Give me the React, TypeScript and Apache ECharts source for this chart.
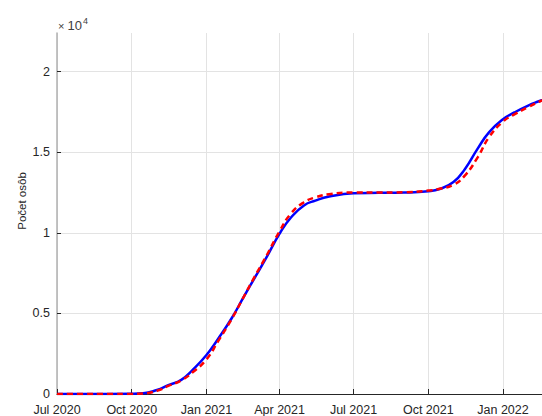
import React, { useEffect, useRef } from "react";
import * as echarts from "echarts";

const dates = [
  "2020-07-01", "2020-08-01", "2020-09-01", "2020-10-01", "2020-10-15",
  "2020-11-01", "2020-11-15", "2020-12-01", "2020-12-15", "2021-01-01",
  "2021-01-15", "2021-02-01", "2021-02-15", "2021-03-01", "2021-03-15",
  "2021-04-01", "2021-04-15", "2021-05-01", "2021-05-15", "2021-06-01",
  "2021-07-01", "2021-08-01", "2021-09-01", "2021-10-01", "2021-10-15",
  "2021-11-01", "2021-11-15", "2021-12-01", "2021-12-15", "2022-01-01",
  "2022-01-15", "2022-02-01", "2022-02-15", "2022-03-01",
];

const blueValues = [
  0, 0, 0, 10, 40,
  250, 550, 880, 1500, 2420,
  3400, 4700, 5950, 7180, 8400,
  9950, 10950, 11700, 12000, 12250,
  12450, 12480, 12500, 12580, 12720,
  13150, 13950, 15240, 16250, 17050,
  17470, 17900, 18180, 18450,
];

const redValues = [
  0, 0, 0, 5, 30,
  200, 500, 850, 1350, 2150,
  3250, 4650, 5950, 7250, 8500,
  10100, 11200, 11900, 12200, 12400,
  12500, 12500, 12520, 12620, 12730,
  12980, 13550, 14700, 15950, 16900,
  17350, 17800, 18150, 18450,
];

const xTickDates = [
  "2020-07-01", "2020-10-01", "2021-01-01", "2021-04-01",
  "2021-07-01", "2021-10-01", "2022-01-01",
];
const monthNames = ["Jan", "Feb", "Mar", "Apr", "May", "Jun", "Jul", "Aug", "Sep", "Oct", "Nov", "Dec"];

const yTicks = [0, 5000, 10000, 15000, 20000];
const yLabels = ["0", "0.5", "1", "1.5", "2"];

const xMin = "2020-07-01";
const xMax = "2022-02-18";
const yMax = 22400;

const yTitle = "Počet osôb";

const ts = (d: string) => new Date(d + "T00:00:00Z").getTime();

export default function App() {
  const ref = useRef<HTMLDivElement>(null);
  useEffect(() => {
    if (!ref.current) return;
    const chart = echarts.init(ref.current, null, { renderer: "svg" });
    const font = "Liberation Sans, Arial, sans-serif";
    const tickTs = xTickDates.map(ts);
    chart.setOption({
      animation: false,
      grid: { left: 57, top: 33, right: 0, bottom: 18, containLabel: false },
      xAxis: {
        type: "value",
        min: ts(xMin),
        max: ts(xMax),
        axisLine: { show: true, lineStyle: { color: "#262626", width: 1 } },
        axisTick: {
          show: true,
          inside: true,
          length: 5,
          customValues: tickTs,
          lineStyle: { color: "#262626" },
        },
        axisLabel: {
          customValues: tickTs,
          margin: 9,
          color: "#262626",
          fontSize: 12.5,
          fontFamily: font,
          formatter: (v: number) => {
            const d = new Date(v);
            return monthNames[d.getUTCMonth()] + " " + d.getUTCFullYear();
          },
        },
        splitLine: { show: true, lineStyle: { color: "#e3e3e3", width: 1 } },
      },
      yAxis: {
        type: "value",
        min: 0,
        max: yMax,
        axisLine: { show: true, lineStyle: { color: "#b0b0b0", width: 1.5 } },
        axisTick: {
          show: true,
          inside: true,
          length: 4,
          customValues: yTicks,
          lineStyle: { color: "#262626" },
        },
        axisLabel: {
          customValues: yTicks,
          margin: 7,
          color: "#262626",
          fontSize: 12.5,
          fontFamily: font,
          formatter: (v: number) => yLabels[yTicks.indexOf(v)] ?? "",
        },
        splitLine: { show: true, lineStyle: { color: "#e3e3e3", width: 1 } },
      },
      graphic: [
        {
          type: "text",
          x: 22,
          y: 201,
          rotation: Math.PI / 2,
          style: {
            text: yTitle,
            fontSize: 11.5,
            fontFamily: font,
            fill: "#262626",
            align: "center",
            verticalAlign: "middle",
          },
        },
        {
          type: "text",
          x: 58,
          y: 25,
          style: {
            text: "{a|×}{b|10}{c|4}",
            fontFamily: font,
            fill: "#404040",
            verticalAlign: "middle",
            rich: {
              a: { fontSize: 11, fill: "#404040", fontFamily: font, padding: [2, 3, 0, 0] },
              b: { fontSize: 13, fill: "#404040", fontFamily: font },
              c: { fontSize: 9, fill: "#404040", fontFamily: font, padding: [0, 0, 9, 1] },
            },
          },
        },
      ],
      series: [
        {
          name: "blue",
          type: "line",
          data: dates.map((d, i) => [ts(d), blueValues[i]]),
          smooth: 0.5,
          showSymbol: false,
          symbol: "none",
          lineStyle: { color: "#0000ff", width: 2.5 },
          z: 2,
        },
        {
          name: "red",
          type: "line",
          data: dates.map((d, i) => [ts(d), redValues[i]]),
          smooth: 0.5,
          showSymbol: false,
          symbol: "none",
          lineStyle: { color: "#ff0000", width: 2.5, type: [6, 4] },
          z: 3,
        },
      ],
    });
    return () => chart.dispose();
  }, []);
  return (
    <div
      ref={ref}
      style={{ position: "fixed", left: 0, top: 0, width: 542, height: 416, background: "#fff" }}
    />
  );
}
